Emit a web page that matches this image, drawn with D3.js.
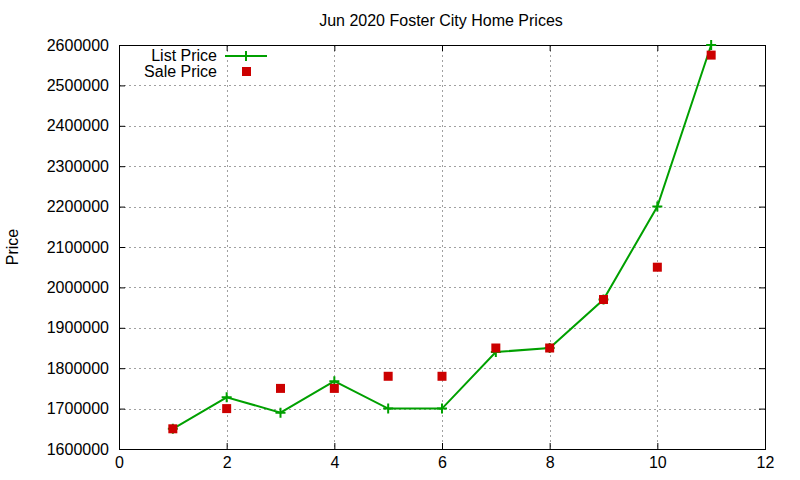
<!DOCTYPE html>
<html><head><meta charset="utf-8">
<script src="https://cdn.jsdelivr.net/npm/d3@7"></script>
<style>body{margin:0;background:#fff}svg{display:block}text{font-family:"Liberation Sans",Arial,sans-serif;fill:#000}</style>
</head><body>
<svg id="c" width="800" height="480"></svg>
<script>
const title = "Jun 2020 Foster City Home Prices";
const yLabel = "Price";
const xs = [1,2,3,4,5,6,7,8,9,10,11];
const listPrice = [1650000,1728000,1690000,1768000,1700000,1700000,1840000,1850000,1970000,2200000,2600000];
const salePrice = [1650000,1700000,1750000,1750000,1780000,1780000,1850000,1850000,1970000,2050000,2575000];
const xTicks = [0,2,4,6,8,10,12];
const yTicks = [1600000,1700000,1800000,1900000,2000000,2100000,2200000,2300000,2400000,2500000,2600000];
const seriesNames = ["List Price","Sale Price"];

const L=119,R=765,T=45,B=449;
const svg=d3.select("#c");
const x=d3.scaleLinear().domain([0,12]).range([L,R]);
const y=d3.scaleLinear().domain([1600000,2600000]).range([B,T]);
const green="#00a000", red="#cc0000", fs=16;

// grid
const g=svg.append("g");
g.selectAll(".gx").data(xTicks.filter(d=>d>0&&d<12)).enter().append("line")
 .attr("x1",d=>Math.round(x(d))+0.5).attr("x2",d=>Math.round(x(d))+0.5).attr("y1",T).attr("y2",B)
 .attr("stroke","#a0a0a0").attr("stroke-dasharray","2,3");
g.selectAll(".gy").data(yTicks.filter(d=>d>1600000&&d<2600000)).enter().append("line")
 .attr("y1",d=>Math.round(y(d))+0.5).attr("y2",d=>Math.round(y(d))+0.5).attr("x1",L).attr("x2",R)
 .attr("stroke","#a0a0a0").attr("stroke-dasharray","2,3");

// axes with inward ticks
const ax=svg.append("g").attr("transform",`translate(0,${B})`).call(d3.axisBottom(x).tickValues(xTicks).tickSize(-6).tickPadding(8).tickFormat(d3.format("d")));
const axT=svg.append("g").attr("transform",`translate(0,${T})`).call(d3.axisTop(x).tickValues(xTicks).tickSize(-6).tickFormat(""));
const ay=svg.append("g").attr("transform",`translate(${L},0)`).call(d3.axisLeft(y).tickValues(yTicks).tickSize(-6).tickPadding(10).tickFormat(d3.format("d")));
const ayR=svg.append("g").attr("transform",`translate(${R},0)`).call(d3.axisRight(y).tickValues(yTicks).tickSize(-6).tickFormat(""));
[ax,axT,ay,ayR].forEach(a=>{a.select(".domain").remove();a.selectAll("line").attr("stroke","#000");a.selectAll("text").attr("font-size",fs).attr("font-family","Liberation Sans, Arial, sans-serif").attr("fill","#000");});
svg.append("rect").attr("x",L+0.5).attr("y",T+0.5).attr("width",R-L).attr("height",B-T).attr("fill","none").attr("stroke","#000");

// list price line
const pts=xs.map((d,i)=>[d,listPrice[i]]);
svg.append("path").datum(pts).attr("d",d3.line().x(d=>x(d[0])).y(d=>y(d[1])))
 .attr("fill","none").attr("stroke",green).attr("stroke-width",2);
const plus=(sel,cx,cy)=>{sel.append("path").attr("d",`M${cx-5},${cy}H${cx+5}M${cx},${cy-5}V${cy+5}`).attr("stroke",green).attr("stroke-width",2);};
pts.forEach(p=>plus(svg,x(p[0]),y(p[1])));
// sale squares
svg.selectAll(".sq").data(xs.map((d,i)=>[d,salePrice[i]])).enter().append("rect")
 .attr("x",d=>x(d[0])-4.5).attr("y",d=>y(d[1])-4.5).attr("width",9).attr("height",9).attr("fill",red);

// legend
svg.append("text").attr("x",217).attr("y",61).attr("text-anchor","end").attr("font-size",fs).text(seriesNames[0]);
svg.append("line").attr("x1",225).attr("x2",267).attr("y1",56).attr("y2",56).attr("stroke",green).attr("stroke-width",2);
plus(svg,246,56);
svg.append("text").attr("x",217).attr("y",77).attr("text-anchor","end").attr("font-size",fs).text(seriesNames[1]);
svg.append("rect").attr("x",242).attr("y",67).attr("width",9).attr("height",9).attr("fill",red);

// title & y label
svg.append("text").attr("x",441).attr("y",26).attr("text-anchor","middle").attr("font-size",fs).text(title);
svg.append("text").attr("transform","translate(18,247) rotate(-90)").attr("text-anchor","middle").attr("font-size",fs).text(yLabel);
</script></body></html>
